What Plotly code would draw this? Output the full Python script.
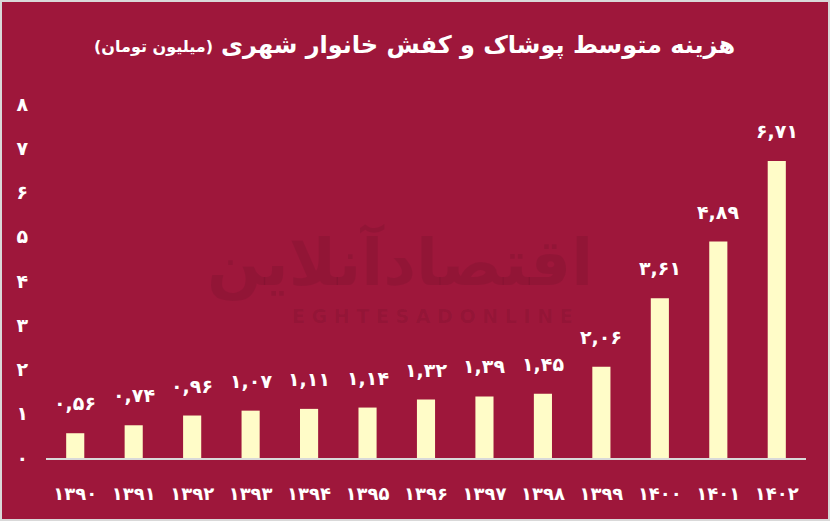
import plotly.graph_objects as go

years = [1390, 1391, 1392, 1393, 1394, 1395, 1396, 1397, 1398, 1399, 1400, 1401, 1402]
values = [0.56, 0.74, 0.96, 1.07, 1.11, 1.14, 1.32, 1.39, 1.45, 2.06, 3.61, 4.89, 6.71]
y_ticks = [0, 1, 2, 3, 4, 5, 6, 7, 8]

title_main = "هزینه متوسط پوشاک و کفش خانوار شهری"
title_sub = "(میلیون تومان)"

FA = str.maketrans("0123456789.", "۰۱۲۳۴۵۶۷۸۹,")


def fa(s):
    return str(s).translate(FA)


def fmt_val(v):
    s = f"{v:.2f}".rstrip("0").rstrip(".")
    return fa(s)


W, H = 830, 521
ML, MR, MT, MB = 46, 24, 104, 63
PW, PH = W - ML - MR, H - MT - MB


def px(x):
    return (x - ML) / PW


def py(y):
    return (H - MB - y) / PH


BG = "#9E173B"
BAR = "#FFFCC8"
FONT = "DejaVu Sans"

cats = [fa(y) for y in years]

fig = go.Figure()
fig.add_trace(go.Bar(
    x=cats, y=values,
    marker=dict(color=BAR, line=dict(width=0)),
    width=0.31,
    hoverinfo="skip",
))

annotations = []
for c, v in zip(cats, values):
    annotations.append(dict(
        x=c, y=v, xref="x", yref="y", text="<b>" + fmt_val(v) + "</b>",
        showarrow=False, yanchor="bottom", yshift=17,
        font=dict(family=FONT, size=19, color="white"),
    ))

# watermark
annotations.append(dict(
    x=px(400), y=py(262), xref="paper", yref="paper", xanchor="center", yanchor="middle",
    text="<b>اقتصادآنلاین</b>", showarrow=False,
    font=dict(family=FONT, size=64, color="rgba(0,0,0,0.07)"),
))
annotations.append(dict(
    x=px(432), y=py(316), xref="paper", yref="paper", xanchor="center", yanchor="middle",
    text="<b>E G H T E S A D O N L I N E</b>", showarrow=False,
    font=dict(family=FONT, size=19, color="rgba(0,0,0,0.07)"),
))

# title
annotations.append(dict(
    x=px(737), y=py(45), xref="paper", yref="paper", xanchor="right", yanchor="middle",
    text="<b>" + title_main + "</b>", showarrow=False,
    font=dict(family=FONT, size=24, color="white"),
))
annotations.append(dict(
    x=px(215), y=py(47), xref="paper", yref="paper", xanchor="right", yanchor="middle",
    text="<b>" + title_sub + "</b>", showarrow=False,
    font=dict(family=FONT, size=16, color="white"),
))

fig.update_layout(
    width=W, height=H,
    margin=dict(l=ML, r=MR, t=MT, b=MB, pad=0),
    paper_bgcolor=BG, plot_bgcolor=BG,
    showlegend=False,
    bargap=0.69,
    annotations=annotations,
    shapes=[dict(
        type="rect", xref="paper", yref="paper",
        x0=px(1), x1=px(829), y0=py(520), y1=py(1),
        line=dict(color="#D9D9D9", width=2), fillcolor="rgba(0,0,0,0)",
        layer="above",
    )],
    xaxis=dict(
        showgrid=False, zeroline=False, showline=True, linecolor="#D9D9D9", linewidth=2,
        ticks="", ticklabelstandoff=18,
        tickvals=cats, ticktext=["<b>" + c + "</b>" for c in cats],
        tickfont=dict(family=FONT, size=18, color="white"),
        fixedrange=True,
    ),
    yaxis=dict(
        range=[0, 8], showgrid=False, zeroline=False, showline=False,
        tickvals=y_ticks, ticktext=["<b>" + fa(t) + "</b>" for t in y_ticks],
        ticks="", ticklabelstandoff=17,
        tickfont=dict(family=FONT, size=19, color="white"),
        fixedrange=True,
    ),
)

fig.write_html(
    "out.html",
    config={"displayModeBar": False},
    post_script="document.body.style.margin='0';document.body.style.background='#D9D9D9';",
)
